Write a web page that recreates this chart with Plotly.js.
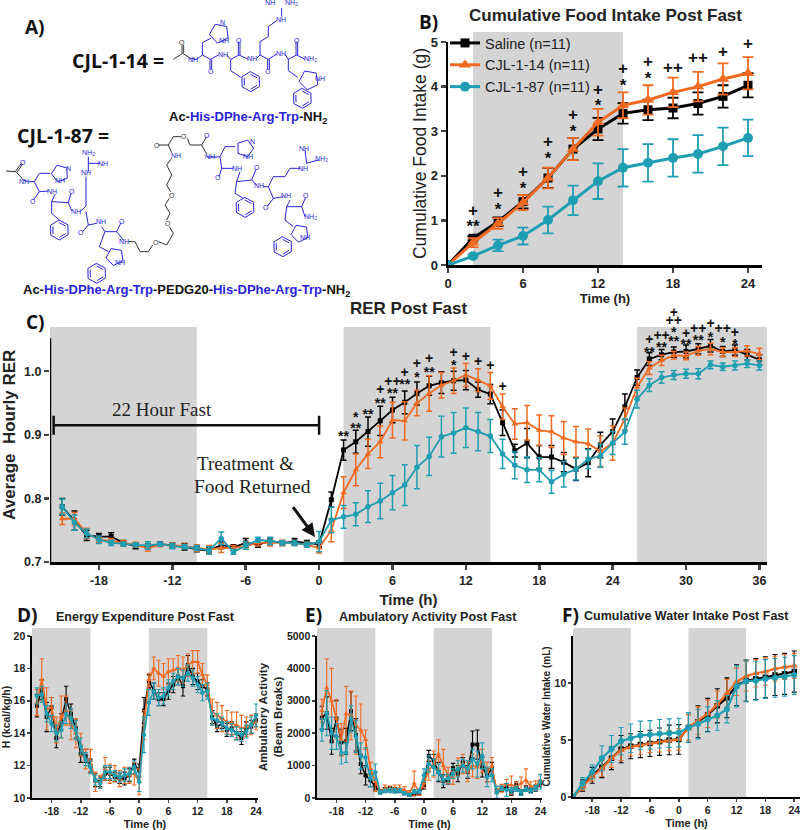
<!DOCTYPE html>
<html><head><meta charset="utf-8">
<script src="https://cdn.plot.ly/plotly-3.0.1.min.js"></script>
<style>html,body{margin:0;padding:0;background:#fff}#chart{width:800px;height:830px}</style>
</head><body><div id="chart"></div>
<script>
// ---------- Panel B ----------
const hoursB=[0,2,4,6,8,10,12,14,16,18,20,22,24];
const salineB=[0,.6,.97,1.42,1.95,2.6,3.05,3.4,3.48,3.52,3.62,3.78,4.03];
const salineBerr=[0,.05,.1,.15,.22,.25,.25,.23,.23,.23,.25,.25,.27];
const cjl14B=[0,.5,.93,1.4,1.95,2.6,3.2,3.58,3.7,3.87,4.0,4.17,4.3];
const cjl14Berr=[0,.1,.12,.17,.23,.25,.3,.29,.33,.33,.33,.35,.36];
const cjl87B=[0,.2,.44,.65,1.01,1.45,1.88,2.18,2.29,2.4,2.49,2.66,2.85];
const cjl87Berr=[0,.03,.13,.19,.3,.33,.4,.42,.42,.42,.42,.42,.41];
const sigBx=[2,2,4,4,6,6,8,8,10,10,12,12,14,14,16,16,18,20,22,24];
const sigBy=[1.2,.84,1.59,1.22,2.06,1.69,2.73,2.35,3.35,2.96,3.9,3.54,4.38,3.99,4.53,4.15,4.4,4.62,4.77,4.93];
const sigBt=['+','**','+','*','+','*','+','*','+','*','+','*','+','*','+','*','++','++','+','+'];
// ---------- Panel C ----------
const hoursC=[-21,-20,-19,-18,-17,-16,-15,-14,-13,-12,-11,-10,-9,-8,-7,-6,-5,-4,-3,-2,-1,0,1,2,3,4,5,6,7,8,9,10,11,12,13,14,15,16,17,18,19,20,21,22,23,24,25,26,27,28,29,30,31,32,33,34,35,36];
const salineC=[.787,.765,.742,.74,.74,.73,.725,.725,.728,.726,.724,.72,.718,.727,.723,.73,.727,.733,.73,.732,.73,.728,.798,.876,.889,.905,.922,.939,.951,.965,.977,.982,.985,.986,.971,.964,.919,.875,.887,.865,.865,.857,.846,.856,.884,.905,.944,.99,1.019,1.026,1.03,1.031,1.035,1.04,1.031,1.033,1.026,1.018];
const salineCerr=[.013,.015,.008,.005,.006,.004,.004,.003,.003,.004,.005,.004,.005,.006,.004,.007,.004,.005,.004,.005,.004,.005,.012,.016,.018,.023,.023,.02,.018,.018,.015,.017,.015,.015,.012,.015,.02,.01,.023,.018,.018,.015,.018,.022,.02,.02,.02,.012,.01,.008,.008,.01,.008,.01,.008,.008,.008,.008];
const cjl14C=[.768,.768,.745,.735,.733,.73,.727,.722,.727,.726,.725,.722,.72,.722,.722,.725,.73,.73,.73,.73,.727,.722,.75,.809,.845,.87,.889,.923,.922,.95,.965,.978,.985,.994,.986,.977,.944,.917,.919,.907,.905,.895,.889,.886,.874,.887,.925,.975,1.005,1.017,1.025,1.024,1.032,1.035,1.03,1.03,1.032,1.027];
const cjl14Cerr=[.009,.01,.008,.004,.004,.004,.004,.005,.003,.004,.003,.005,.006,.007,.004,.005,.005,.005,.004,.004,.004,.008,.018,.025,.025,.023,.025,.028,.03,.02,.028,.02,.02,.018,.018,.021,.02,.024,.027,.024,.025,.026,.024,.023,.024,.027,.017,.014,.01,.008,.006,.006,.007,.009,.007,.007,.008,.009];
const cjl87C=[.787,.762,.745,.735,.73,.728,.727,.726,.728,.725,.724,.722,.718,.737,.716,.726,.735,.733,.73,.73,.727,.732,.766,.771,.775,.787,.796,.809,.821,.849,.866,.897,.903,.911,.905,.898,.87,.852,.845,.845,.826,.838,.846,.862,.867,.887,.905,.956,.978,.99,.994,.996,.996,1.01,1.007,1.009,1.012,1.009];
const cjl87Cerr=[.012,.012,.007,.006,.004,.003,.003,.006,.003,.004,.003,.004,.006,.01,.004,.006,.004,.006,.003,.004,.004,.016,.02,.018,.018,.025,.028,.027,.032,.034,.03,.032,.032,.031,.03,.026,.023,.021,.02,.019,.018,.02,.017,.015,.018,.018,.02,.014,.01,.009,.007,.007,.008,.006,.006,.007,.006,.007];
const sigCx=[2,3,3,4,5,5,6,6,7,7,8,8,9,9,11,11,12,13,14,15,27,27,28,28,29,29,29,29,30,30,31,31,32,32,33,33,34,34];
const sigCy=[.895,.926,.908,.931,.969,.948,.982,.963,.997,.977,1.011,.988,1.019,.996,1.028,1.007,1.022,1.014,1.007,.974,1.048,1.028,1.055,1.036,1.09,1.078,1.059,1.045,1.058,1.04,1.065,1.046,1.074,1.052,1.065,1.043,1.06,1.041];
const sigCt=['**','*','**','**','+','**','++','**','+','**','+','*','+','**','+','*','+','+','+','+','+','**','++','**','+','++','*','**','+','**','++','**','+','*','++','*','+','*'];
// ---------- Panels D, E ----------
const hoursDE=[-21,-20,-19,-18,-17,-16,-15,-14,-13,-12,-11,-10,-9,-8,-7,-6,-5,-4,-3,-2,-1,0,1,2,3,4,5,6,7,8,9,10,11,12,13,14,15,16,17,18,19,20,21,22,23,24];
const salineD=[15.7,16.7,15.0,15.6,13.7,14.7,16.1,15.2,14.3,12.7, 12.6,12.0,11.1,11.0,11.5,11.5,11.3,11.2,11.2,11.4, 12.1,11.7,15.4,17.2,16.6,16.1,16.1,16.6,17.0,17.5, 16.9,18.2,17.5,17.2,16.9,16.7,15.0,14.4,14.6,14.2, 14.3,14.0,13.7,14.3,14.4,14.8];
const salineDerr=[.7,.6,.9,.6,.6,.5,.8,.6,.6,.5, .4,.4,.4,.3,.4,.4,.3,.3,.4,.4, .3,.4,.8,.4,.5,.4,.4,.5,.5,.5, .6,.6,.5,.5,.4,.4,.4,.3,.3,.4, .4,.4,.4,.4,.4,.4];
const cjl14D=[15.9,17.3,15.5,15.6,14.2,15.0,15.4,14.5,14.0,13.3, 12.4,12.3,11.0,11.0,11.8,11.5,11.5,11.2,11.4,11.4, 11.5,11.0,14.5,17.3,18.0,17.7,17.5,17.8,17.9,18.0, 17.9,18.2,18.4,18.4,17.6,17.0,15.3,15.1,14.9,14.7, 14.6,14.5,14.3,14.4,14.5,14.7];
const cjl14Derr=[.8,1.3,1.3,.6,.8,1.3,.9,.9,.9,.7, .6,.7,.6,.4,.7,.6,.5,.5,.5,.5, .7,.8,.9,.4,.7,.8,.8,.8,.7,.8, .8,.7,.7,.7,.7,.6,.8,.8,.8,.7, .7,.8,.8,.6,.6,.5];
const cjl87D=[16.3,16.4,15.2,14.6,14.0,14.2,15.2,14.9,14.2,13.2, 12.4,11.9,11.1,10.9,11.6,11.6,11.4,11.3,11.4,11.5, 11.9,11.0,13.9,15.9,16.6,16.2,16.3,16.8,17.2,17.5, 17.4,17.7,17.4,17.0,16.5,16.6,14.9,14.8,14.6,14.3, 14.2,14.0,13.9,14.1,14.5,15.1];
const cjl87Derr=[.5,.5,.5,.5,.5,.5,.6,.6,.6,.5, .4,.4,.3,.3,.4,.4,.3,.3,.4,.4, .4,.6,1.1,.8,.5,.5,.5,.5,.5,.5, .5,.5,.5,.5,.5,.5,.4,.4,.4,.4, .4,.4,.4,.4,.5,.7];
const salineE=[2480,2620,1750,2450,1720,1750,2680,1950,1050,700, 550,350,200,250,280,250,220,150,100,130, 150,380,1300,1150,800,520,550,920,750,1100, 800,1650,1650,950,700,900,200,280,350,150, 400,180,300,250,300,450];
const salineEerr=[350,500,400,550,400,400,600,500,300,300, 200,100,60,70,70,70,60,50,50,60, 60,100,170,200,300,200,120,150,250,150, 200,420,450,300,200,200,70,80,90,60, 100,70,80,80,100,100];
const cjl14E=[2700,3400,3000,2450,1800,2600,2550,2250,2100,1800, 900,500,200,300,280,300,300,250,150,450, 180,450,850,1050,1350,1000,700,620,950,1050, 800,1000,950,1150,800,1000,220,300,420,400, 350,450,550,350,380,550];
const cjl14Eerr=[350,900,1000,600,500,850,750,900,800,300, 200,300,70,100,90,100,100,100,80,380, 100,130,300,400,450,500,250,200,280,300, 300,350,350,350,300,250,70,120,150,280, 150,200,350,150,150,180];
const cjl87E=[2100,2620,2000,1900,1400,1400,2450,1900,1300,1250, 600,800,180,220,230,220,230,150,100,200, 200,700,1050,950,800,560,600,750,900,1000, 900,1200,1050,1300,650,700,180,300,250,230, 280,170,270,230,300,500];
const cjl87Eerr=[350,700,500,400,350,300,400,500,400,300, 250,250,60,60,70,70,60,50,40,60, 60,200,250,250,250,150,130,150,250,200, 250,300,400,400,300,200,180,70,200,90, 80,90,70,80,90,220];
// ---------- Panel F ----------
const hoursF=[-22,-20,-18,-16,-14,-12,-10,-8,-6,-4,-2,0,2,4,6,8,10,12,14,16,18,20,22,24];
const salineF=[0,1.0,1.9,2.6,3.4,4.2,4.45,4.6,4.7,4.85,5.0,5.05,6.1,6.6,7.2,8.0,8.7,9.8,10.2,10.35,10.5,10.7,10.8,11.0];
const salineFerr=[0,.5,.7,.9,1.0,1.2,1.1,1.15,1.15,1.2,1.3,1.3,1.3,1.4,1.45,1.5,1.75,1.8,1.8,1.8,1.8,1.8,1.8,1.8];
const cjl14F=[0,.9,1.8,2.5,3.4,4.1,4.4,4.55,4.7,4.85,4.95,5.05,6.1,6.7,7.3,8.1,9.1,10.1,10.6,10.85,11.0,11.25,11.4,11.5];
const cjl14Ferr=[0,.3,.4,.7,.8,.9,.8,.8,.8,.9,.9,.95,1.1,1.2,1.2,1.2,1.2,1.2,1.3,1.2,1.2,1.1,1.1,1.1];
const cjl87F=[0,1.2,2.2,3.4,4.2,4.9,5.15,5.4,5.45,5.55,5.6,5.65,6.1,6.4,6.8,7.15,7.7,9.7,10.15,10.2,10.35,10.45,10.55,10.7];
const cjl87Ferr=[0,.5,.6,1.1,1.2,1.2,1.25,1.25,1.25,1.25,1.25,1.25,1.3,1.3,1.1,1.3,1.2,1.8,1.8,1.7,1.7,1.7,1.7,1.7];
// ---------- Labels ----------
const seriesNames=['Saline (n=11)','CJL-1-14 (n=11)','CJL-1-87 (n=11)'];
const ticksB=[0,6,12,18,24], ticksBy=[0,1,2,3,4,5];
const ticksC=[-18,-12,-6,0,6,12,18,24,30,36], ticksCy=[.7,.8,.9,1.0];
const ticksLower=[-18,-12,-6,0,6,12,18,24];

// ---------- Styles ----------
const BLACK='#000000',ORANGE='#F26A21',TEAL='#1F9DB2',GRAY='#D4D4D4',BLUE='#2A22DC';
const SANS='"Liberation Sans", Arial, sans-serif', HEAD='"Open Sans", sans-serif', SERIF='"Liberation Serif", serif';
const W=800,H=830;
const fx=p=>p/W, fy=p=>1-p/H;

function series(x,y,e,color,sym,name,axx,axy,o,size){
  return {type:'scatter',mode:'lines+markers',x,y,name,xaxis:axx,yaxis:axy,showlegend:!!o.legend,
    line:{color,width:o.lw,shape:'linear'},marker:{color,symbol:sym,size:size||o.ms},
    error_y:{type:'data',array:e,visible:true,color,thickness:o.et,width:o.ew},hoverinfo:'skip'};
}
function panelTraces(x,a,ae,b,be,c,ce,axx,axy,o){
  return [series(x,a,ae,BLACK,'square',seriesNames[0],axx,axy,o),
          series(x,b,be,ORANGE,'triangle-up',seriesNames[1],axx,axy,o,o.ms*1.2),
          series(x,c,ce,TEAL,'circle',seriesNames[2],axx,axy,o,o.ms*1.1)];
}
function sigTrace(x,y,t,axx,axy,size){
  return {type:'scatter',mode:'text',x,y,text:t,textposition:'middle center',cliponaxis:false,showlegend:false,hoverinfo:'skip',
    xaxis:axx,yaxis:axy,textfont:{family:SANS,size,color:'#111',weight:700}};
}
const data=[
 ...panelTraces(hoursB,salineB,salineBerr,cjl14B,cjl14Berr,cjl87B,cjl87Berr,'x','y',{legend:true,lw:3,ms:9,et:1.8,ew:5.5}),
 sigTrace(sigBx,sigBy,sigBt,'x','y',17),
 ...panelTraces(hoursC,salineC,salineCerr,cjl14C,cjl14Cerr,cjl87C,cjl87Cerr,'x2','y2',{lw:1.8,ms:5,et:1.5,ew:3}),
 sigTrace(sigCx,sigCy,sigCt,'x2','y2',14),
 ...panelTraces(hoursDE,salineD,salineDerr,cjl14D,cjl14Derr,cjl87D,cjl87Derr,'x3','y3',{lw:1.6,ms:4,et:1.1,ew:2.2}),
 ...panelTraces(hoursDE,salineE,salineEerr,cjl14E,cjl14Eerr,cjl87E,cjl87Eerr,'x4','y4',{lw:1.6,ms:4,et:1.1,ew:2.2}),
 ...panelTraces(hoursF,salineF,salineFerr,cjl14F,cjl14Ferr,cjl87F,cjl87Ferr,'x5','y5',{lw:2.2,ms:5.5,et:1.1,ew:2.5})
];

function xAxis(l,r,range,ticks,size,anchor,title,tsize,stand,lw){
  return {domain:[fx(l),fx(r)],range,anchor,tickmode:'array',tickvals:ticks,ticktext:ticks.map(String),ticks:'outside',ticklen:lw>2?5:3,tickwidth:lw,
    showline:true,linewidth:lw,linecolor:'#000',showgrid:false,zeroline:false,ticklabeloverflow:'allow',
    tickfont:{family:SANS,size,color:'#222',weight:700},
    title:{text:title,font:{family:SANS,size:tsize,color:'#222',weight:700},standoff:stand}};
}
function yAxis(b,t,range,ticks,size,anchor,title,tsize,stand,lw,fmt,weight,noLine){
  return {domain:[fy(b),fy(t)],range,anchor,tickmode:'array',tickvals:ticks,ticktext:ticks.map(fmt||String),ticks:'outside',ticklen:lw>2?5:3,tickwidth:lw,
    showline:!noLine,linewidth:lw,linecolor:'#000',showgrid:false,zeroline:false,ticklabeloverflow:'allow',
    tickfont:{family:SANS,size,color:'#222',weight:700},
    title:{text:title,font:{family:SANS,size:tsize,color:'#222',weight:weight||700},standoff:stand}};
}
function gray(axx,x0,x1,topPx,bottomPx){
  return {type:'rect',xref:axx,yref:'paper',x0,x1,y0:fy(bottomPx),y1:fy(topPx),fillcolor:GRAY,line:{width:0},layer:'below'};
}
const shapes=[
 gray('x',2,14,32,265),
 gray('x2',-22,-10,327,562),gray('x2',2,14,327,562),gray('x2',26,36.7,327,562),
 gray('x3',-22,-10,628,798),gray('x3',2,14,628,798),
 gray('x4',-22,-10,628,798),gray('x4',2,14,628,798),
 gray('x5',-22,-10,628,797),gray('x5',2,14,628,797),
 // visible part of the RER y axis
 {type:'line',xref:'x2',yref:'y2',x0:-22,x1:-22,y0:.7,y1:1.052,line:{color:'#000',width:2.5}},
 // 22 hour fast bracket
 {type:'line',xref:'x2',yref:'y2',x0:-21.7,x1:0,y0:.915,y1:.915,line:{color:'#111',width:2.5}},
 {type:'line',xref:'x2',yref:'y2',x0:-21.7,x1:-21.7,y0:.9,y1:.93,line:{color:'#111',width:2.5}},
 {type:'line',xref:'x2',yref:'y2',x0:0,x1:0,y0:.9,y1:.93,line:{color:'#111',width:2.5}}
];

// ---------- Structures of panel A (illustration, zoomed picture coordinates /3) ----------
function polyPath(pts){return 'M'+pts.map(p=>fx(p[0]/3)+' '+fy(p[1]/3)).join('L');}
function ring(cx,cy,r,n,rot){const p=[];for(let i=0;i<=n;i++){const a=(rot||0)+i*2*Math.PI/n;p.push([cx+r*Math.cos(a),cy+r*Math.sin(a)]);}return p;}
function benzene(cx,cy,r,rot){const out=[ring(cx,cy,r,6,rot)];const q=ring(cx,cy,r*.74,6,rot);[0,2,4].forEach(i=>out.push([q[i],q[i+1]]));return out;}
const blueBonds=[
 [[572,175],[590,178],[607,165],[632,178],[655,165]],[[680,165],[692,178],[717,165],[745,178]],[[770,175],[780,165],[805,178],[830,162]],[[855,162],[865,178],[890,165],[915,178]],
 [[630,178],[630,208]],[[635,178],[635,208]],[[715,165],[715,125]],[[720,165],[720,125]],[[803,178],[803,208]],[[808,178],[808,208]],[[888,165],[888,125]],[[893,165],[893,125]],
 [[607,165],[607,128],[632,115]],ring(658,100,30,5,.5),[[692,178],[692,212],[722,232]],...benzene(752,245,30,.5),
 [[780,165],[780,125],[805,110],[805,80],[830,62]],[[845,50],[845,25]],[[865,178],[865,212],[893,232]],ring(927,240,30,5,3),...benzene(907,295,30,.5),
 // lower structure, left half
 [[70,540],[85,545],[103,545],[118,520],[150,520]],ring(180,520,26,5,3.1),[[103,545],[118,575],[145,573]],[[118,575],[100,600]],[[165,582],[155,605],[205,608],[215,632]],[[205,608],[213,580]],
 [[155,605],[155,640],[178,660]],...benzene(178,690,30,.5),[[240,635],[258,618],[258,570],[258,530]],[[265,515],[265,490],[265,470]],[[265,490],[300,490]],
 [[258,635],[265,675],[290,670]],[[265,675],[248,695]],[[305,680],[315,695],[350,695],[370,720]],[[350,695],[363,668]],[[315,695],[298,740],[325,755]],ring(345,770,27,5,3),...benzene(290,820,30,.5),
 // lower structure, right half
 [[620,470],[640,472],[660,470],[675,440],[705,440]],ring(735,445,26,5,0),[[660,470],[665,505],[700,505]],[[665,505],[657,530]],[[720,515],[710,545],[755,540],[770,555]],[[755,540],[768,508]],
 [[710,545],[705,580],[730,595]],...benzene(735,622,30,.5),[[790,560],[805,560],[820,530],[855,530],[870,505],[900,505]],[[920,490],[915,450]],[[920,490],[955,480]],[[805,560],[820,595],[850,590]],[[820,595],[803,618]],
 [[870,600],[860,620],[905,620],[915,650]],[[905,620],[917,592]],[[860,620],[855,660],[880,680]],ring(900,700,27,5,3),...benzene(848,740,30,.5)
];
const blackBonds=[
 [[520,178],[548,160],[572,175]],[[546,160],[546,135]],[[551,160],[551,135]],
 [[18,513],[48,515],[70,540]],[[46,515],[64,490]],[[51,517],[68,492]],
 [[385,725],[405,725],[420,755],[445,755],[458,735]],[[475,725],[500,735],[520,700],[508,680]],[[500,660],[510,640],[495,615],[508,595]],[[512,575],[500,555],[515,525],[500,495],[515,475]],
 [[515,458],[505,435],[475,435]],[[505,435],[520,410],[543,410]],[[562,415],[570,435],[605,435],[620,410]],[[605,435],[620,462]]
];
blueBonds.forEach(b=>shapes.push({type:'path',xref:'paper',yref:'paper',path:polyPath(b),line:{color:BLUE,width:1}}));
blackBonds.forEach(b=>shapes.push({type:'path',xref:'paper',yref:'paper',path:polyPath(b),line:{color:'#333',width:1}}));

const annotations=[];
function txt(x,y,text,size,o){o=o||{};annotations.push({xref:'paper',yref:'paper',x:fx(x),y:fy(y),text,showarrow:false,xanchor:o.anchor||'center',yanchor:'middle',textangle:o.angle||0,
  font:{family:o.family||SANS,size,color:o.color||'#111',weight:o.weight||400},align:o.align||'center'});}
const title=[['Cumulative Food Intake Post Fast',605,15,17],['RER Post Fast',408,308,17],['Energy Expenditure Post Fast',145,617,12.5],['Ambulatory Activity Post Fast',428,617,12.5],['Cumulative Water Intake Post Fast',686,616,12.5]];
title.forEach(t=>txt(t[1],t[2],t[0],t[3],{weight:700,color:'#222'}));
[['A)',35,27],['B)',428,22],['C)',35,322],['D)',27,615],['E)',313,615],['F)',570,615]].forEach(t=>txt(t[1],t[2],t[0],19,{family:HEAD,weight:700}));
txt(118,60,'CJL-1-14 =',19.5,{family:HEAD,weight:700});
txt(63,135,'CJL-1-87 =',19.5,{family:HEAD,weight:700});
const bl=s=>'<span style="color:#2A22DC">'+s+'</span>';
txt(248,117,'Ac-'+bl('His-DPhe-Arg-Trp')+'-NH<sub>2</sub>',13,{weight:700});
txt(186,290,'Ac-'+bl('His-DPhe-Arg-Trp')+'-PEDG20-'+bl('His-DPhe-Arg-Trp')+'-NH<sub>2</sub>',13,{weight:700});
const atomLabels=[['O',546,127],['NH',580,178],['N',668,68],['NH',673,122],['NH',668,163],['O',632,214],['O',717,120],['NH',757,176],['O',805,214],['NH',843,160],['O',890,120],['NH<sub>2</sub>',932,176],['NH',960,235],['NH',843,58],['NH',810,8],['NH<sub>2</sub>',873,8],
 ['O',68,486],['NH',72,544],['N',205,505],['NH',180,543],['NH',155,573],['O',98,603],['O',215,575],['NH',228,635],['NH',258,518],['NH',310,490],['NH<sub>2</sub>',265,460],['O',243,698],['NH',303,665],['O',365,663],['NH',372,725],['NH',360,788],
 ['O',470,437],['NH',527,467],['O',553,410],['O',622,408],['O',467,727],['O',503,670],['O',515,585],['NH',630,470],['N',758,425],['NH',745,468],['NH',710,505],['O',655,533],['O',770,503],['NH',778,557],['NH',910,505],['NH',912,445],['NH<sub>2</sub>',965,478],['O',798,622],['NH',858,588],['O',918,588],['NH<sub>2</sub>',930,652],['NH',915,712]];
atomLabels.forEach(a=>txt(a[1]/3,a[2]/3,a[0],7,{color:(a[0]==='O'&&(a[1]===470||a[1]===553||a[1]===467||a[1]===503||a[1]===515||a[1]===546))?'#333':BLUE}));
txt(162,410,'22 Hour Fast',19,{family:SERIF,color:'#222'});
txt(245,463,'Treatment &amp;',19,{family:SERIF,color:'#222'});
txt(253,486,'Food Returned',19.5,{family:SERIF,color:'#222'});
annotations.push({xref:'paper',yref:'paper',axref:'pixel',ayref:'pixel',x:fx(315),y:fy(537),ax:-25,ay:-34,showarrow:true,arrowhead:2,arrowsize:.9,arrowwidth:3,arrowcolor:'#111',text:' '});

const layout={width:W,height:H,margin:{l:0,r:0,t:0,b:0},paper_bgcolor:'#fff',plot_bgcolor:'rgba(0,0,0,0)',font:{family:SANS},
 showlegend:true,legend:{x:fx(445),y:fy(27),xanchor:'left',yanchor:'top',bgcolor:'rgba(0,0,0,0)',font:{family:SANS,size:14.5,color:'#222'},itemwidth:30,tracegroupgap:0},
 xaxis:xAxis(448,762,[0,25.12],ticksB,13,'y','Time (h)',13,4,2.5),
 yaxis:yAxis(265,42,[0,5],ticksBy,13,'x','Cumulative Food Intake (g)',17.5,0,2.5,null,400),
 xaxis2:xAxis(50,767,[-22,36.62],ticksC,12.5,'y2','Time (h)',15,8,2.5),
 yaxis2:yAxis(562,307.6,[.7,1.1],ticksCy,12.5,'x2','Average  Hourly RER',17,6,2.5,v=>v.toFixed(1),700,true),
 xaxis3:xAxis(32,258,[-22,24.4],ticksLower,10.5,'y3','Time (h)',11,4,1.6),
 yaxis3:yAxis(798,636,[10,20],[10,12,14,16,18,20],10.5,'x3','H (kcal/kg/h)',10.5,2,1.6),
 xaxis4:xAxis(317,542,[-22,24.3],ticksLower,10.5,'y4','Time (h)',11,4,1.6),
 yaxis4:yAxis(798,636,[0,5000],[0,1000,2000,3000,4000,5000],10.5,'x4','Ambulatory Activity<br>(Beam Breaks)',11.5,2,1.6),
 xaxis5:xAxis(573,800,[-22,25.2],ticksLower,10.5,'y5','Time (h)',11,4,1.6),
 yaxis5:yAxis(797,636,[0,14.12],[0,5,10],10.5,'x5','Cumulative Water Intake (mL)',10,2,1.6),
 shapes,annotations};
Plotly.newPlot('chart',data,layout,{displayModeBar:false,staticPlot:true});
</script></body></html>
